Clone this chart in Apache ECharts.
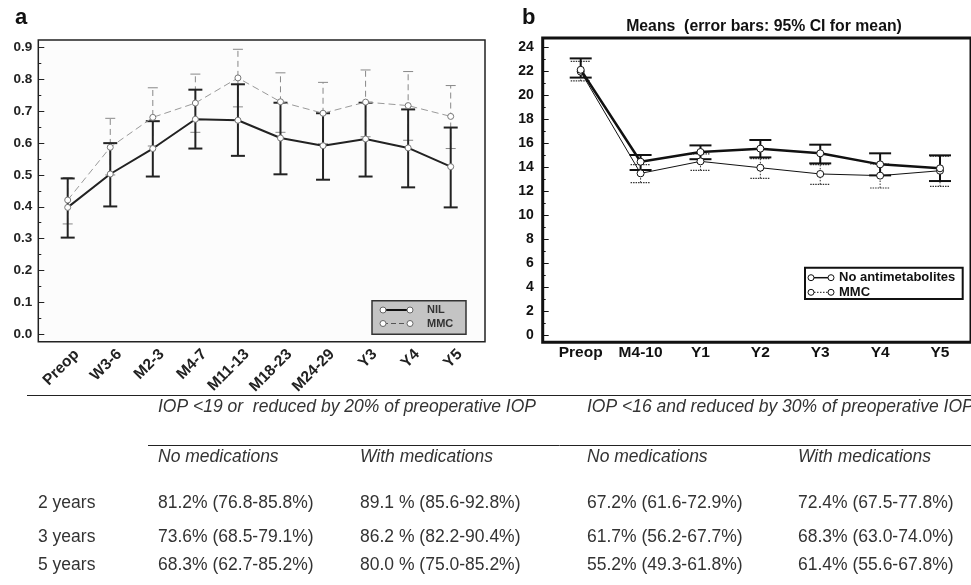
<!DOCTYPE html>
<html>
<head>
<meta charset="utf-8">
<script src="https://cdn.jsdelivr.net/npm/echarts@6/dist/echarts.min.js"></script>
<style>html,body{margin:0;padding:0;background:#fff;}#c{width:971px;height:585px;}</style>
</head>
<body>
<div id="c"></div>
<script>
// ---- Panel a data ----
const catsA = ['Preop','W3-6','M2-3','M4-7','M11-13','M18-23','M24-29','Y3','Y4','Y5'];
const yTicksA = [0,0.1,0.2,0.3,0.4,0.5,0.6,0.7,0.8,0.9];
const nilMean = [0.398,0.503,0.583,0.675,0.672,0.616,0.592,0.613,0.585,0.526];
const nilLow  = [0.303,0.401,0.495,0.583,0.560,0.502,0.485,0.495,0.461,0.398];
const nilHigh = [0.489,0.600,0.669,0.768,0.785,0.727,0.694,0.727,0.706,0.649];
const mmcMean = [0.421,0.587,0.681,0.726,0.805,0.730,0.694,0.729,0.718,0.684];
const mmcLow  = [0.346,0.500,0.591,0.634,0.714,0.634,0.598,0.620,0.609,0.583];
const mmcHigh = [0.492,0.678,0.774,0.817,0.895,0.821,0.791,0.830,0.825,0.781];
const legendA = ['NIL','MMC'];

// ---- Panel b data ----
const catsB = ['Preop','M4-10','Y1','Y2','Y3','Y4','Y5'];
const noMean  = [22.10,14.44,15.25,15.53,15.14,14.22,13.89];
const noLow   = [21.45,13.75,14.65,14.80,14.30,13.30,12.83];
const noHigh  = [23.05,15.00,15.80,16.25,15.86,15.14,14.97];
const mbMean  = [21.95,13.47,14.47,13.94,13.42,13.28,13.69];
const mbLow   = [21.17,12.70,13.72,13.06,12.55,12.25,12.39];
const mbHigh  = [22.80,14.20,15.10,14.70,14.20,14.25,14.90];
const legendB = ['No antimetabolites','MMC'];
const titleB = 'Means  (error bars: 95% CI for mean)';

// ---- Table ----
const tblGroups = ['IOP <19 or  reduced by 20% of preoperative IOP','IOP <16 and reduced by 30% of preoperative IOP'];
const tblSub = ['No medications','With medications','No medications','With medications'];
const tblRows = ['2 years','3 years','5 years'];
const tblVals = [
  ['81.2% (76.8-85.8%)','89.1 % (85.6-92.8%)','67.2% (61.6-72.9%)','72.4% (67.5-77.8%)'],
  ['73.6% (68.5-79.1%)','86.2 % (82.2-90.4%)','61.7% (56.2-67.7%)','68.3% (63.0-74.0%)'],
  ['68.3% (62.7-85.2%)','80.0 % (75.0-85.2%)','55.2% (49.3-61.8%)','61.4% (55.6-67.8%)']
];

const FF = '"Liberation Sans", Arial, Helvetica, sans-serif';

function errData(lo, hi){ return lo.map((v,i)=>[i, v, hi[i]]); }
function errRender(capHalf, style){
  return function(params, api){
    const x = api.value(0);
    const pLo = api.coord([x, api.value(1)]);
    const pHi = api.coord([x, api.value(2)]);
    return {type:'group', children:[
      {type:'line', shape:{x1:pLo[0],y1:pLo[1],x2:pHi[0],y2:pHi[1]}, style:Object.assign({}, style.v)},
      {type:'line', shape:{x1:pHi[0]-capHalf,y1:pHi[1],x2:pHi[0]+capHalf,y2:pHi[1]}, style:Object.assign({}, style.c)},
      {type:'line', shape:{x1:pLo[0]-capHalf,y1:pLo[1],x2:pLo[0]+capHalf,y2:pLo[1]}, style:Object.assign({}, style.c)}
    ]};
  };
}

const chart = echarts.init(document.getElementById('c'), null, {renderer:'canvas'});

const graphics = [];
// legend a
graphics.push({type:'rect', shape:{x:372,y:300.7,width:94,height:33.6}, style:{fill:'#c4c4c4', stroke:'#333', lineWidth:1.5}, z:100});
[[310, {stroke:'#111', lineWidth:2}], [323.5, {stroke:'#555', lineWidth:1.2, lineDash:[5,3]}]].forEach((it, k)=>{
  graphics.push({type:'line', shape:{x1:383,y1:it[0],x2:410,y2:it[0]}, style:it[1], z:101});
  graphics.push({type:'circle', shape:{cx:383,cy:it[0],r:3}, style:{fill:'#fff', stroke:'#666', lineWidth:1}, z:102});
  graphics.push({type:'circle', shape:{cx:410,cy:it[0],r:3}, style:{fill:'#fff', stroke:'#666', lineWidth:1}, z:102});
  graphics.push({type:'text', style:{text:legendA[k], x:427, y:it[0], fill:'#333', font:'bold 11px '+FF, verticalAlign:'middle'}, z:102});
});
// legend b
graphics.push({type:'rect', shape:{x:805,y:267.7,width:157.7,height:31.3}, style:{fill:'#fff', stroke:'#111', lineWidth:2}, z:100});
[[277.7, {stroke:'#111', lineWidth:1.5}], [292.3, {stroke:'#111', lineWidth:1, lineDash:[1.5,1.5]}]].forEach((it, k)=>{
  graphics.push({type:'line', shape:{x1:811,y1:it[0],x2:831,y2:it[0]}, style:it[1], z:101});
  graphics.push({type:'circle', shape:{cx:811,cy:it[0],r:3}, style:{fill:'#fff', stroke:'#111', lineWidth:1}, z:102});
  graphics.push({type:'circle', shape:{cx:831,cy:it[0],r:3}, style:{fill:'#fff', stroke:'#111', lineWidth:1}, z:102});
  graphics.push({type:'text', style:{text:legendB[k], x:839, y:it[0], fill:'#111', font:'bold 13px '+FF, verticalAlign:'middle'}, z:102});
});
// table
graphics.push({type:'line', shape:{x1:27,y1:395.5,x2:971,y2:395.5}, style:{stroke:'#222', lineWidth:1}});
graphics.push({type:'line', shape:{x1:148,y1:445.5,x2:971,y2:445.5}, style:{stroke:'#222', lineWidth:1}});
const colX = [158,360,587,798];
const TF = '17.5px ' + FF;
tblGroups.forEach((t,i)=>graphics.push({type:'text', style:{text:t, x:colX[i*2], y:407, fill:'#333', font:'italic '+TF, verticalAlign:'middle'}}));
tblSub.forEach((t,i)=>graphics.push({type:'text', style:{text:t, x:colX[i], y:457, fill:'#333', font:'italic '+TF, verticalAlign:'middle'}}));
const rowY = [503,537.5,565.5];
tblRows.forEach((r,j)=>{
  graphics.push({type:'text', style:{text:r, x:38, y:rowY[j], fill:'#333', font:TF, verticalAlign:'middle'}});
  tblVals[j].forEach((v,i)=>graphics.push({type:'text', style:{text:v, x:colX[i], y:rowY[j], fill:'#333', font:TF, verticalAlign:'middle'}}));
});

const lblA = {fontFamily:FF, fontWeight:'bold', fontSize:13.5, color:'#222'};
const lblAx = {fontFamily:FF, fontWeight:'bold', fontSize:15.5, color:'#222'};
const lblB = {fontFamily:FF, fontWeight:'bold', fontSize:14, color:'#111'};
const lblBx = {fontFamily:FF, fontWeight:'bold', fontSize:15.5, color:'#111'};

chart.setOption({
  animation:false,
  backgroundColor:'#fff',
  title:[
    {text:'a', left:10, top:2, textStyle:{fontFamily:FF, fontWeight:'bold', fontSize:22, color:'#111'}},
    {text:'b', left:517, top:2, textStyle:{fontFamily:FF, fontWeight:'bold', fontSize:22, color:'#111'}},
    {text:titleB, left:759, top:14, textAlign:'center', textStyle:{fontFamily:FF, fontWeight:'bold', fontSize:15.8, color:'#111'}}
  ],
  grid:[
    {left:38.3, top:40, width:446.7, height:301.7, show:true, borderColor:'#222', borderWidth:1.5, backgroundColor:'#fcfcfc'},
    {left:67.7, top:47.7, width:383, height:286.3},
    {left:542.7, top:38, width:440, height:304.3, show:true, borderColor:'#111', borderWidth:3, backgroundColor:'rgba(0,0,0,0)'},
    {left:580.7, top:47, width:359.3, height:288},
    {left:76.7, top:47.7, width:383, height:286.3}
  ],
  xAxis:[
    {gridIndex:0, type:'value', show:false, min:0, max:1},
    {gridIndex:1, type:'category', data:catsA, boundaryGap:false, axisLine:{show:false}, axisTick:{show:false}, axisLabel:{show:false}},
    {gridIndex:2, type:'value', show:false, min:0, max:1},
    {gridIndex:3, type:'category', data:catsB, boundaryGap:false, axisLine:{show:false}, axisTick:{show:false},
      axisLabel:Object.assign({interval:0, margin:10}, lblBx)},
    {gridIndex:4, type:'category', data:catsA, boundaryGap:false, axisLine:{show:false}, axisTick:{show:false},
      axisLabel:Object.assign({rotate:45, interval:0, margin:18}, lblAx)}
  ],
  yAxis:[
    {gridIndex:0, type:'value', show:false, min:0, max:1},
    {gridIndex:1, type:'value', min:yTicksA[0], max:yTicksA[yTicksA.length-1], interval:0.1, offset:29.4,
      axisLine:{show:false}, splitLine:{show:false},
      axisTick:{show:true, inside:true, length:6, lineStyle:{color:'#222', width:1}},
      minorTick:{show:true, splitNumber:2, length:3, lineStyle:{color:'#222', width:1}},
      axisLabel:Object.assign({margin:6, formatter:v=>v.toFixed(1)}, lblA)},
    {gridIndex:2, type:'value', show:false, min:0, max:1},
    {gridIndex:3, type:'value', min:0, max:24, interval:2, offset:38,
      axisLine:{show:false}, splitLine:{show:false},
      axisTick:{show:true, inside:true, length:6, lineStyle:{color:'#111', width:1}},
      minorTick:{show:true, splitNumber:2, length:3, lineStyle:{color:'#111', width:1}},
      axisLabel:Object.assign({margin:9}, lblB)},
    {gridIndex:4, type:'value', show:false, min:0, max:1}
  ],
  series:[
    {type:'custom', name:'NIL CI', xAxisIndex:1, yAxisIndex:1, z:2, clip:false,
      renderItem:errRender(7, {v:{stroke:'#222', lineWidth:2}, c:{stroke:'#222', lineWidth:2}}),
      encode:{x:0, y:[1,2]}, data:errData(nilLow, nilHigh)},
    {type:'custom', name:'MMC CI', xAxisIndex:1, yAxisIndex:1, z:1, clip:false,
      renderItem:errRender(5, {v:{stroke:'#888', lineWidth:1, lineDash:[6,4]}, c:{stroke:'#888', lineWidth:1}}),
      encode:{x:0, y:[1,2]}, data:errData(mmcLow, mmcHigh)},
    {type:'line', name:'MMC', xAxisIndex:1, yAxisIndex:1, z:3, data:mmcMean, symbol:'circle', symbolSize:6,
      lineStyle:{color:'#999', width:1, type:[7,4]}, itemStyle:{color:'#fff', borderColor:'#777', borderWidth:1}},
    {type:'line', name:'NIL', xAxisIndex:1, yAxisIndex:1, z:4, data:nilMean, symbol:'circle', symbolSize:6,
      lineStyle:{color:'#222', width:2}, itemStyle:{color:'#fff', borderColor:'#777', borderWidth:1}},

    {type:'custom', name:'No CI', xAxisIndex:3, yAxisIndex:3, z:2, clip:false,
      renderItem:errRender(11, {v:{stroke:'#111', lineWidth:2}, c:{stroke:'#111', lineWidth:2}}),
      encode:{x:0, y:[1,2]}, data:errData(noLow, noHigh)},
    {type:'custom', name:'MMC b CI', xAxisIndex:3, yAxisIndex:3, z:1, clip:false,
      renderItem:errRender(10, {v:{stroke:'#333', lineWidth:1, lineDash:[1.5,1.5]}, c:{stroke:'#333', lineWidth:1.2, lineDash:[1.5,1]}}),
      encode:{x:0, y:[1,2]}, data:errData(mbLow, mbHigh)},
    {type:'line', name:'MMC b', xAxisIndex:3, yAxisIndex:3, z:3, data:mbMean, symbol:'circle', symbolSize:7,
      lineStyle:{color:'#111', width:1}, itemStyle:{color:'#fff', borderColor:'#111', borderWidth:1}},
    {type:'line', name:'No antimetabolites', xAxisIndex:3, yAxisIndex:3, z:4, data:noMean, symbol:'circle', symbolSize:7,
      lineStyle:{color:'#111', width:2.5}, itemStyle:{color:'#fff', borderColor:'#111', borderWidth:1}}
  ],
  graphic:graphics
});
</script>
</body>
</html>
